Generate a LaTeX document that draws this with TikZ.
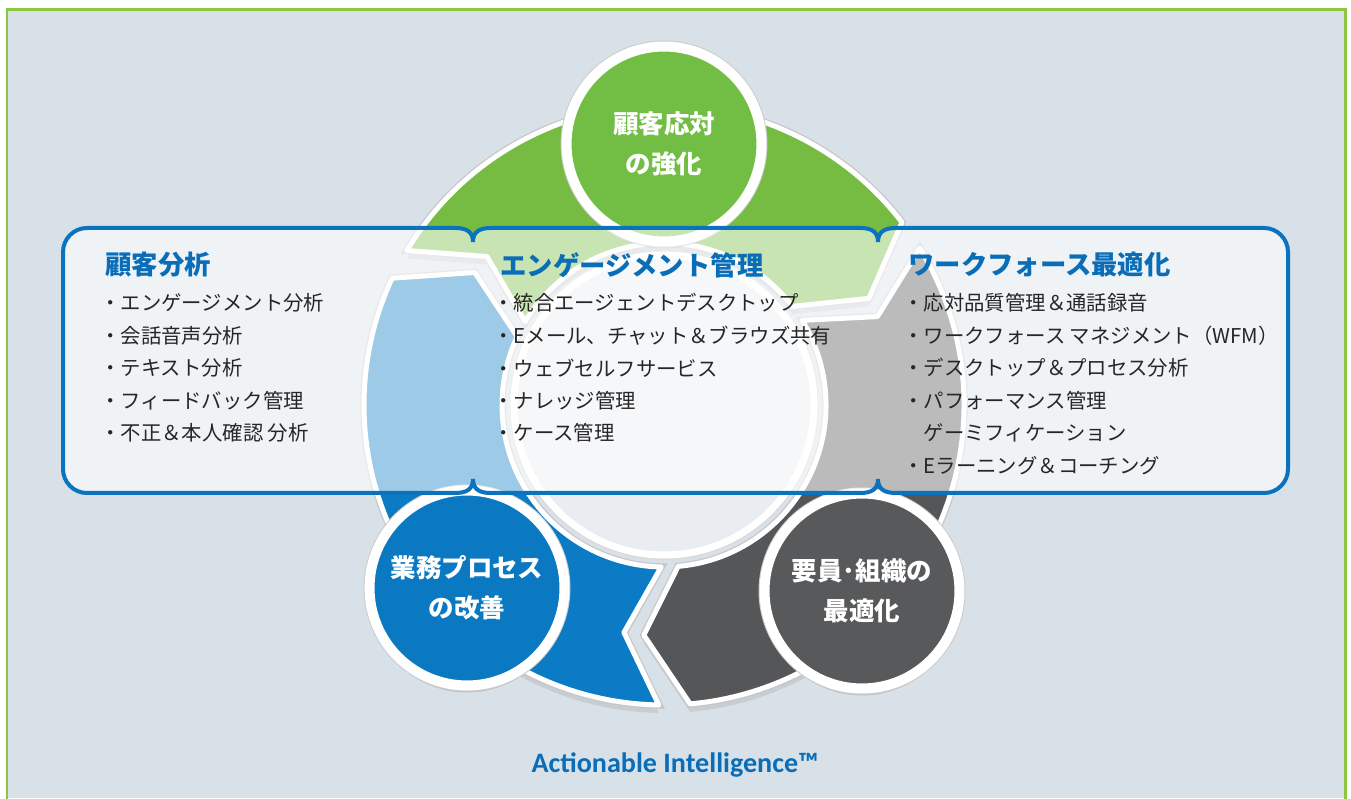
\documentclass[tikz,border=0pt]{standalone}
\usepackage{fontspec}
\setmainfont{Noto Sans CJK JP}
\newfontfamily\brandfont{Carlito}
\usetikzlibrary{shadows}
\definecolor{bggray}{HTML}{D9E1E8}
\definecolor{framegreen}{HTML}{8DC63F}
\definecolor{cgreen}{HTML}{72BE44}
\definecolor{cblue}{HTML}{0A79C1}
\definecolor{cdark}{HTML}{58595B}
\definecolor{seggreen}{HTML}{76BC43}
\definecolor{segblue}{HTML}{0A7BC4}
\definecolor{segdark}{HTML}{555658}
\definecolor{discgray}{HTML}{E9EDF1}
\definecolor{panelblue}{HTML}{0B72BE}
\definecolor{headblue}{HTML}{0A6DB7}
\definecolor{textdark}{HTML}{262626}

\begin{document}
\begin{tikzpicture}[x=0.02cm, y=0.02cm]
    \useasboundingbox (0,0) rectangle (1351,798);
    \fill[white] (0,0) rectangle (1351,798);
    \fill[bggray] (7,0) rectangle (1345,788);
    \draw[framegreen, line width=0.06cm] (7,-10) -- (7,788) -- (1345,788) -- (1345,-10);

    \begin{scope}[shift={(664,393)},
        seg/.style={draw=white, line width=0.1cm, line join=round,
          drop shadow={opacity=0.2, shadow xshift=0cm, shadow yshift=-0.16cm},
          preaction={draw=black!22, line width=0.15cm}}]
      \path[fill=discgray, draw=white, line width=0.14cm,
        preaction={draw=black!15, line width=0.19cm}] (0,0) circle[radius=150];
      \path[seg, fill=seggreen] (149:300) arc[start angle=149, end angle=37.5, radius=300]
        -- (27.5:231) -- (37.5:162) arc[start angle=37.5, end angle=149, radius=162]
        -- (140:231) -- cycle;
      \path[seg, fill=segdark] (31.5:300) arc[start angle=31.5, end angle=-85, radius=300]
        -- (-95:231) -- (-85:162) arc[start angle=-85, end angle=31.5, radius=162]
        -- (22.5:231) -- cycle;
      \path[seg, fill=segblue] (-91:300) arc[start angle=-91, end angle=-205, radius=300]
        -- (-215:231) -- (-205:162) arc[start angle=-205, end angle=-91, radius=162]
        -- (-100:231) -- cycle;
    \end{scope}

    \begin{scope}[every node/.style={circle, minimum size=3.9cm, draw=white,
        line width=0.2cm, text=white, align=center,
        font=\bfseries\fontsize{14.5}{22.5}\selectfont,
        drop shadow={opacity=0.3, shadow xshift=0cm, shadow yshift=-0.14cm},
        preaction={draw=black!20, line width=0.24cm}}]
      \node[fill=cgreen] (c1) at (664,654) {顧客応対\\の強化};
      \node[fill=cblue] (c2) at (467,210) {業務プロセス\\の改善};
      \node[fill=cdark] (c3) at (862,207) {要員･組織の\\最適化};
    \end{scope}

    \path[draw=panelblue, line width=0.08cm, fill=white, fill opacity=0.6]
      (87,570) -- (455,570) .. controls (467,570) and (473,566) .. (473,556)
      .. controls (473,566) and (479,570) .. (491,570)
      -- (860,570) .. controls (872,570) and (878,566) .. (878,556)
      .. controls (878,566) and (884,570) .. (896,570)
      -- (1264,570) arc[start angle=90, end angle=0, radius=24]
      -- (1288,329) arc[start angle=0, end angle=-90, radius=24]
      -- (896,305) .. controls (884,305) and (878,309) .. (878,319)
      .. controls (878,309) and (872,305) .. (860,305)
      -- (491,305) .. controls (479,305) and (473,309) .. (473,319)
      .. controls (473,309) and (467,305) .. (455,305)
      -- (87,305) arc[start angle=270, end angle=180, radius=24]
      -- (63,546) arc[start angle=180, end angle=90, radius=24] -- cycle;

    \begin{scope}[every node/.style={anchor=west, inner sep=0pt, text=headblue,
        font=\bfseries\fontsize{15}{18}\selectfont}]
      \node (h1) at (105,533) {顧客分析};
      \node (h2) at (500,533) {エンゲージメント管理};
      \node (h3) at (908,533) {ワークフォース最適化};
    \end{scope}

    \begin{scope}[every node/.style={anchor=west, inner sep=0pt, text=textdark,
        font=\fontsize{11.6}{14}\selectfont}]
      \foreach \t [count=\i] in {・エンゲージメント分析, ・会話音声分析, ・テキスト分析,
          ・フィードバック管理, ・不正＆本人確認 分析}
        \node (a\i) at (100,527.5-32.5*\i) {\t};
      \foreach \t [count=\i] in {・統合エージェントデスクトップ, ・Eメール、チャット＆ブラウズ共有,
          ・ウェブセルフサービス, ・ナレッジ管理, ・ケース管理}
        \node (b\i) at (493,527.5-32.5*\i) {\t};
      \foreach \t [count=\i] in {・応対品質管理＆通話録音, ・ワークフォース マネジメント（WFM）,
          ・デスクトップ＆プロセス分析, ・パフォーマンス管理, 　ゲーミフィケーション,
          ・Eラーニング＆コーチング}
        \node (w\i) at (903,527.5-32.5*\i) {\t};
    \end{scope}

    \node[text=headblue, font=\brandfont\bfseries\fontsize{16}{19}\selectfont] (brand)
      at (675,33) {Actionable Intelligence™};
\end{tikzpicture}
\end{document}
